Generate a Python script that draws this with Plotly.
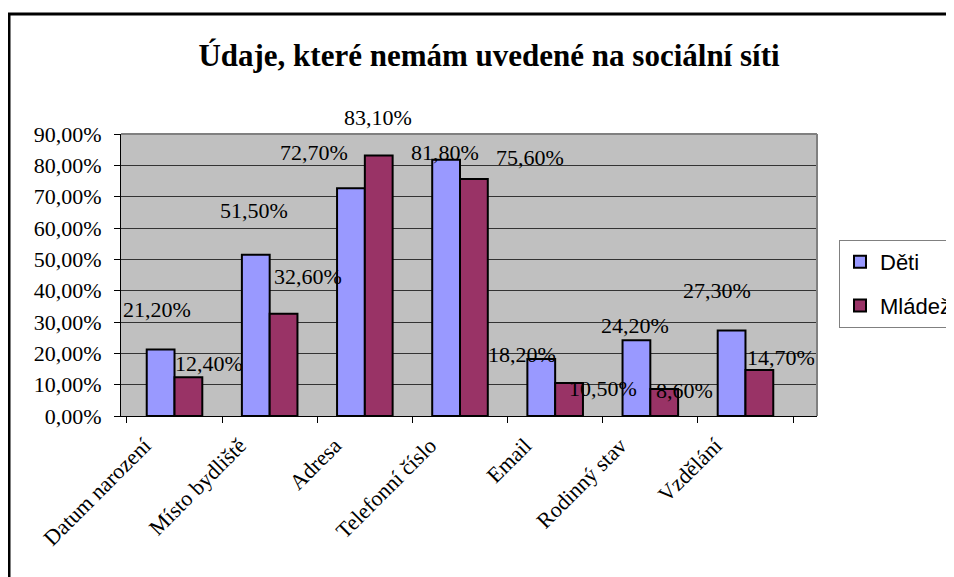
import plotly.graph_objects as go

# data
categories = ["Datum narození", "Místo bydliště", "Adresa", "Telefonní číslo",
              "Email", "Rodinný stav", "Vzdělání"]
deti = [0.212, 0.515, 0.727, 0.818, 0.182, 0.242, 0.273]
mladez = [0.124, 0.326, 0.831, 0.756, 0.105, 0.086, 0.147]
series_names = ["Děti", "Mládež"]

# label displacement (px) relative to the top centre of each bar, as in the original
deti_dx = [-3, -1, -36, 0, -19, -1, -14]
deti_dy = [40, 44, 36, 7, 4, 15, 40]
mladez_dx = [20, 24, -1, 55, 33, 20, 21]
mladez_dy = [14, 37, 38, 22, -5, -1, 12]

W, H = 954, 577
OFF = 8  # the page body margin shifts the figure by 8px
ML, MR, MT, MB = 113, 145, 126, 169
PW, PH = W - ML - MR, H - MT - MB
BARGAP = 0.416

SERIF = "Times New Roman, Liberation Serif, serif"
SANS = "Arial, Liberation Sans, sans-serif"

fig = go.Figure()
fig.add_trace(go.Bar(x=categories, y=deti, name=series_names[0], legendgroup="a",
                     marker=dict(color="#9999FF", line=dict(color="black", width=2))))
fig.add_trace(go.Bar(x=categories, y=mladez, name=series_names[1], legendgroup="b",
                     marker=dict(color="#993366", line=dict(color="black", width=2))))

# data labels
bar_off = (1 - BARGAP) / 4 * PW / len(categories)
annotations = []
for vals, dxs, dys, sign in [(deti, deti_dx, deti_dy, -1), (mladez, mladez_dx, mladez_dy, 1)]:
    for cat, v, dx, dy in zip(categories, vals, dxs, dys):
        annotations.append(dict(
            x=cat, y=v, xref="x", yref="y",
            text=f"{v * 100:.2f}%".replace(".", ","),
            showarrow=False, xanchor="center", yanchor="middle",
            xshift=sign * bar_off + dx, yshift=dy,
            font=dict(family=SERIF, size=22, color="black"),
        ))

fig.update_layout(
    width=W, height=H,
    margin=dict(l=ML, r=MR, t=MT, b=MB, autoexpand=False),
    paper_bgcolor="white",
    plot_bgcolor="#C0C0C0",
    separators=", ",
    barmode="group",
    bargap=BARGAP,
    bargroupgap=0,
    title=dict(text="<b>Údaje, které nemám uvedené na sociální síti</b>",
               x=(489 - OFF) / W, xanchor="center", y=1 - (55 - OFF) / H, yanchor="middle",
               font=dict(family=SERIF, size=31, color="black")),
    legend=dict(x=(839 - OFF - ML) / PW, xanchor="left",
                y=(H - MB - (240 - OFF)) / PH, yanchor="top",
                bgcolor="white", bordercolor="#808080", borderwidth=1,
                font=dict(family=SANS, size=22, color="black"),
                tracegroupgap=12, traceorder="grouped"),
    annotations=annotations,
    showlegend=True,
)

fig.update_xaxes(
    type="category", tickangle=-45, tickson="boundaries",
    ticks="outside", ticklen=6, tickcolor="black",
    showline=True, linecolor="black", linewidth=1,
    showgrid=False,
    ticklabelshift=-30, ticklabelstandoff=7,
    tickfont=dict(family=SERIF, size=22, color="black"),
)
fig.update_yaxes(
    range=[0, 0.9], dtick=0.1, tickformat=".2%",
    ticks="outside", ticklen=6, tickcolor="black",
    showline=True, linecolor="black", linewidth=1,
    showgrid=True, gridcolor="#333333", gridwidth=1,
    zeroline=False,
    ticklabelstandoff=8,
    tickfont=dict(family=SERIF, size=22, color="black"),
)

# plot area border (top and right) and the outer frame of the chart
fig.add_shape(type="line", xref="paper", yref="paper", x0=0, x1=1, y0=1, y1=1,
              line=dict(color="#808080", width=2))
fig.add_shape(type="line", xref="paper", yref="paper", x0=1, x1=1, y0=0, y1=1,
              line=dict(color="#808080", width=2))
fig.add_shape(type="rect", xref="paper", yref="paper",
              x0=(8 - OFF - ML + 1) / PW, x1=(W + 20 - ML) / PW,
              y0=-(MB + 20) / PH, y1=(H - MB - (14 - OFF)) / PH,
              line=dict(color="black", width=3), layer="below")

fig.write_html("out.html")
